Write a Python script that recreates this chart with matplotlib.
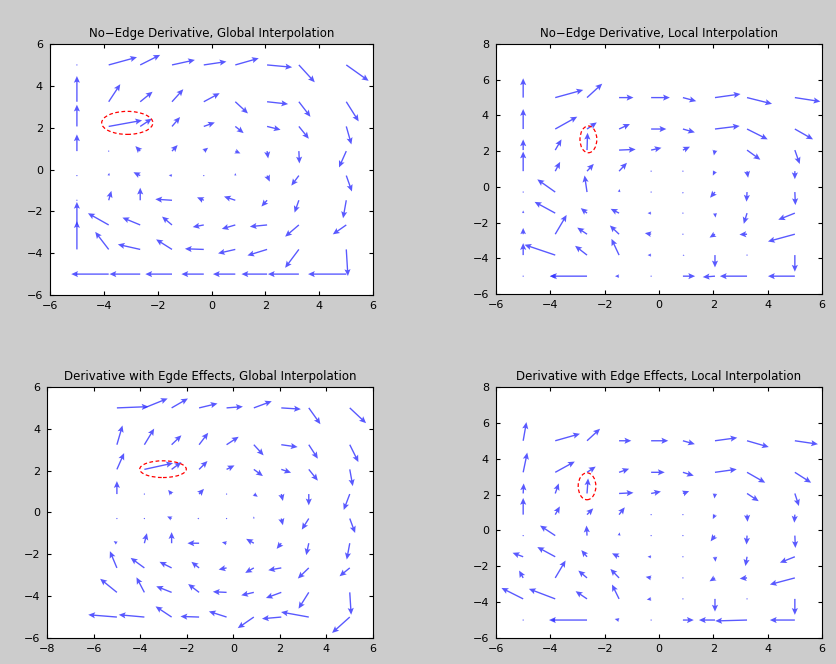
import matplotlib
matplotlib.use("Agg")
import matplotlib.pyplot as plt
import numpy as np
from matplotlib.patches import Ellipse

# sample grid (same for all panels), rows run from top (y=5) to bottom (y=-5)
grid_x = [-5, -3.82, -2.65, -1.47, -0.29, 0.88, 2.06, 3.24, 5]
grid_y = [5, 3.24, 2.06, 0.88, -0.29, -1.47, -2.65, -3.82, -5]

# No-Edge Derivative, Global Interpolation
u1 = [[0, 1.05, 0.74, 0.85, 0.84, 0.87, 0.93, 0.59, 0.83],
      [0, 0.43, 0.46, 0.42, 0.59, 0.47, 0.78, 0.43, 0.46],
      [0, 1.24, 0.43, 0.3, 0.41, 0.31, 0.5, 0.37, 0.19],
      [0, 0.03, -0.18, 0.21, 0.16, 0.19, 0.04, 0.02, -0.27],
      [0.03, 0.02, -0.25, -0.12, 0.05, 0, 0.1, -0.28, 0.21],
      [0, 0.1, 0, -0.62, -0.25, -0.42, -0.21, -0.16, -0.12],
      [0, -0.77, -0.66, -0.37, -0.41, -0.5, -0.64, -0.51, -0.5],
      [0, -0.5, -0.83, -0.59, -0.7, -0.64, -0.73, -0.51, 0.06],
      [0, -1.39, -1.14, -0.99, -0.83, -0.83, -0.95, -1.15, -1.42]]
v1 = [[0.05, 0.37, 0.48, 0.24, 0.16, 0.32, -0.11, -0.83, -0.76],
      [1.23, 0.84, 0.48, 0.6, 0.41, -0.56, -0.11, -0.72, -0.94],
      [1.04, 0.29, 0.37, 0.45, 0.19, -0.32, -0.16, -0.59, -0.86],
      [0.8, 0, 0.24, 0.29, 0.16, -0.11, -0.35, -0.59, -0.78],
      [0, 0.13, 0.16, 0.02, 0, 0.12, -0.29, -0.48, -0.76],
      [0.05, 0.45, 0.6, 0.05, 0.14, 0.18, -0.3, -0.59, -0.86],
      [1.1, 0.56, 0.35, 0.4, -0.1, -0.19, -0.08, -0.56, -0.45],
      [1.35, 0.84, 0.24, 0.48, 0.03, -0.19, -0.29, -0.88, -1.27],
      [0, 0, 0, 0, 0, 0, 0, 0, 0]]

# No-Edge Derivative, Local Interpolation
u2 = [[0, 1.03, 0.56, 0.53, 0.69, 0.49, 0.94, 0.92, 0.94],
      [0, 0.81, 0.36, 0.4, 0.56, 0.44, 0.91, 0.76, 0.67],
      [0, 0.23, 0.02, 0.61, 0.38, 0.26, -0.04, 0.49, 0.18],
      [0, 0.18, 0.25, 0.29, 0.03, 0.02, -0.08, 0.04, 0],
      [0, -0.66, -0.09, 0.02, 0.02, 0, -0.18, -0.02, 0.02],
      [0, -0.76, -0.23, -0.31, -0.13, 0, 0.02, -0.12, -0.61],
      [0, 0.42, -0.36, -0.34, -0.23, 0.02, -0.2, -0.28, -0.99],
      [0, -1.13, -0.44, -0.28, -0.13, 0.06, 0, 0.02, 0],
      [0, -0.2, -1.36, -0.15, 0.02, 0.45, -0.45, -1.0, -0.99]]
v2 = [[1.08, 0.43, 0.78, 0, 0, -0.2, 0.2, -0.35, -0.22],
      [1.12, 0.69, 0.37, 0.28, 0, -0.19, 0.17, -0.58, -0.58],
      [0.6, 0.6, 0.97, 0.04, 0.13, 0.19, -0.3, -0.54, -0.78],
      [1.1, 0.52, 0.41, 0.47, 0.05, -0.03, -0.25, -0.37, -0.45],
      [0.02, 0.71, 0.93, 0.17, 0, -0.1, -0.32, -0.54, -0.73],
      [0.15, 0.63, 0.28, 0.24, 0, 0.02, -0.25, -0.6, -0.37],
      [0.35, 1.08, 0.37, 0.49, 0.06, 0, -0.19, -0.02, -0.41],
      [0.67, 0.58, 0.52, 0.91, 0, -0.03, -0.69, 0, -0.93],
      [0, 0, 0, 0, 0, 0, -0.05, 0, 0]]

# Derivative with Egde Effects, Global Interpolation
u3 = [[1.36, 1.0, 0.7, 0.79, 0.7, 0.77, 0.84, 0.5, 0.7],
      [0.24, 0.42, 0.42, 0.39, 0.52, 0.42, 0.7, 0.39, 0.37],
      [0.31, 1.23, 0.42, 0.36, 0.34, 0.39, 0.42, 0.39, 0.13],
      [0, 0.03, -0.15, 0.21, 0.05, 0.17, 0.07, 0, -0.26],
      [0.02, 0.02, -0.19, -0.08, 0.02, 0, 0.07, -0.3, 0.23],
      [-0.14, 0.11, 0, -0.5, -0.2, -0.33, -0.2, -0.11, -0.13],
      [-0.3, -0.59, -0.52, -0.33, -0.34, -0.37, -0.56, -0.47, -0.44],
      [-0.72, -0.34, -0.66, -0.47, -0.59, -0.54, -0.66, -0.44, 0.06],
      [-1.23, -1.1, -0.69, -0.8, -0.76, -0.69, -0.83, -1.19, -0.76]]
v3 = [[0.06, 0.45, 0.45, 0.21, 0.06, 0.32, -0.06, -0.78, -0.73],
      [0.92, 0.77, 0.45, 0.57, 0.38, -0.51, -0.11, -0.67, -0.83],
      [0.78, 0.3, 0.35, 0.4, 0.19, -0.32, -0.16, -0.54, -0.8],
      [0.62, 0, 0.2, 0.25, 0.03, -0.13, -0.33, -0.54, -0.76],
      [0, 0.02, 0.1, 0, 0, 0.1, -0.32, -0.53, -0.69],
      [0.1, 0.48, 0.53, 0, 0.05, 0.21, -0.27, -0.57, -0.78],
      [0.8, 0.48, 0.29, 0.29, -0.08, -0.24, -0.11, -0.51, -0.4],
      [0.65, 0.72, 0.29, 0.4, 0.03, -0.14, -0.27, -0.78, -1.07],
      [0.11, 0.11, 0.51, 0.03, 0.27, -0.53, -0.08, 0.24, -0.76]]

# Derivative with Edge Effects, Local Interpolation
u4 = [[0.12, 0.91, 0.48, 0.45, 0.63, 0.44, 0.82, 0.8, 0.85],
      [0.15, 0.72, 0.32, 0.37, 0.5, 0.4, 0.8, 0.67, 0.6],
      [0.02, 0.13, 0.04, 0.53, 0.36, 0.23, -0.02, 0.43, 0.15],
      [0, 0.17, 0.23, 0.21, 0.02, 0.02, -0.08, 0.02, -0.02],
      [0.02, -0.56, -0.02, 0.02, 0.02, 0, -0.16, -0.02, 0.02],
      [-0.39, -0.66, -0.21, -0.26, -0.13, 0.02, 0.02, -0.06, -0.55],
      [-0.15, 0.38, -0.32, -0.32, -0.2, 0.02, -0.2, -0.27, -0.92],
      [-0.8, -0.97, -0.42, -0.26, -0.16, 0.02, 0, 0.02, 0],
      [0, -0.15, -1.4, -0.16, 0.02, 0.4, -0.59, -1.17, -0.92]]
v4 = [[1.04, 0.39, 0.67, 0, 0, -0.19, 0.17, -0.35, -0.19],
      [1.1, 0.6, 0.32, 0.2, 0, -0.19, 0.17, -0.58, -0.58],
      [0.56, 0.56, 0.84, 0.04, 0.11, 0.13, -0.28, -0.43, -0.7],
      [0.93, 0.46, 0.35, 0.41, 0, 0, -0.25, -0.4, -0.45],
      [0, 0.56, 0.56, 0.18, 0, -0.05, -0.32, -0.5, -0.69],
      [0.22, 0.54, 0.37, 0.19, 0, 0, -0.28, -0.52, -0.33],
      [0.41, 0.97, 0.41, 0.5, 0.06, 0, -0.19, -0.04, -0.37],
      [0.61, 0.56, 0.43, 0.8, -0.04, 0, -0.71, 0, -0.89],
      [0, 0, 0, 0.06, 0, 0, 0, -0.05, 0]]

titles = ["No\u2212Edge Derivative, Global Interpolation",
          "No\u2212Edge Derivative, Local Interpolation",
          "Derivative with Egde Effects, Global Interpolation",
          "Derivative with Edge Effects, Local Interpolation"]
xlims = [(-6, 6), (-6, 6), (-8, 6), (-6, 6)]
ylims = [(-6, 6), (-6, 8), (-6, 6), (-6, 8)]
# highlighted arrow (centre x, centre y, width, height)
marks = [(-3.13, 2.23, 1.9, 1.1), (-2.6, 2.66, 0.62, 1.5),
         (-3.02, 2.07, 2.0, 0.8), (-2.65, 2.46, 0.65, 1.5)]

# axes placement [left, bottom, width, height]
boxes = [[0.0597, 0.5557, 0.3862, 0.3780],
         [0.5926, 0.5572, 0.3895, 0.3765],
         [0.0562, 0.0392, 0.3895, 0.3780],
         [0.5926, 0.0392, 0.3895, 0.3780]]

fig = plt.figure(figsize=(8.37, 6.64), dpi=100, facecolor="#cccccc")
X, Y = np.meshgrid(grid_x, grid_y)

for i, (u, v) in enumerate([(u1, v1), (u2, v2), (u3, v3), (u4, v4)]):
    ax = fig.add_axes(boxes[i])
    ax.quiver(X, Y, np.array(u), np.array(v), angles="xy", scale_units="xy",
              scale=1, color="#2f2fff", width=0.0042, headwidth=4.5,
              headlength=5, headaxislength=4.2, alpha=0.8)
    cx, cy, w, h = marks[i]
    ax.add_patch(Ellipse((cx, cy), w, h, fill=False, edgecolor="red",
                         linestyle=(0, (3, 2)), linewidth=0.9))
    ax.set_xlim(*xlims[i])
    ax.set_ylim(*ylims[i])
    ax.set_xticks(np.arange(xlims[i][0], xlims[i][1] + 1, 2))
    ax.set_yticks(np.arange(ylims[i][0], ylims[i][1] + 1, 2))
    ax.tick_params(direction="in", top=True, right=True, length=3,
                   labelsize=8)
    ax.tick_params(axis="x", pad=4)
    ax.tick_params(axis="y", pad=5)
    for s in ax.spines.values():
        s.set_linewidth(0.8)
    ax.set_title(titles[i], fontsize=8.5, pad=5)

fig.savefig("out.png", dpi=100, facecolor=fig.get_facecolor())
